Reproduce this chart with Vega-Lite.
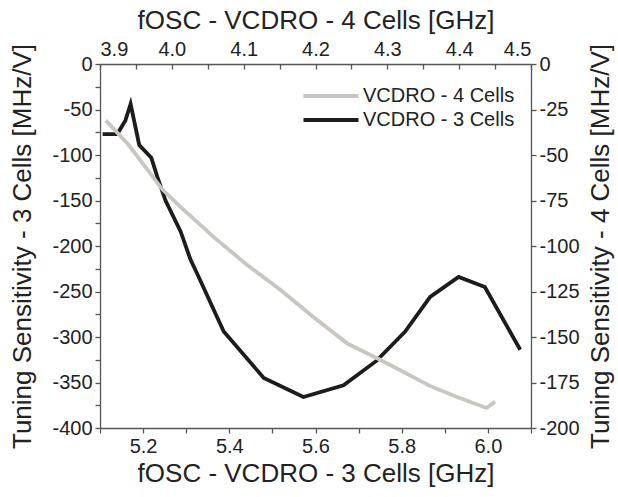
{
  "$schema": "https://vega.github.io/schema/vega-lite/v6.json",
  "width": 431,
  "height": 364,
  "autosize": {"type": "none"},
  "padding": {"left": 100, "top": 64, "right": 87, "bottom": 69},
  "background": "white",
  "datasets": {
    "cells3": [
      {"f": 5.106, "s": -77, "series": "VCDRO - 3 Cells"},
      {"f": 5.140, "s": -77, "series": "VCDRO - 3 Cells"},
      {"f": 5.159, "s": -62, "series": "VCDRO - 3 Cells"},
      {"f": 5.171, "s": -44, "series": "VCDRO - 3 Cells"},
      {"f": 5.191, "s": -89, "series": "VCDRO - 3 Cells"},
      {"f": 5.219, "s": -103, "series": "VCDRO - 3 Cells"},
      {"f": 5.233, "s": -124, "series": "VCDRO - 3 Cells"},
      {"f": 5.252, "s": -150, "series": "VCDRO - 3 Cells"},
      {"f": 5.287, "s": -184, "series": "VCDRO - 3 Cells"},
      {"f": 5.310, "s": -215, "series": "VCDRO - 3 Cells"},
      {"f": 5.325, "s": -230, "series": "VCDRO - 3 Cells"},
      {"f": 5.387, "s": -294, "series": "VCDRO - 3 Cells"},
      {"f": 5.480, "s": -345, "series": "VCDRO - 3 Cells"},
      {"f": 5.572, "s": -366, "series": "VCDRO - 3 Cells"},
      {"f": 5.665, "s": -353, "series": "VCDRO - 3 Cells"},
      {"f": 5.742, "s": -326, "series": "VCDRO - 3 Cells"},
      {"f": 5.808, "s": -294, "series": "VCDRO - 3 Cells"},
      {"f": 5.866, "s": -256, "series": "VCDRO - 3 Cells"},
      {"f": 5.932, "s": -234, "series": "VCDRO - 3 Cells"},
      {"f": 5.993, "s": -245, "series": "VCDRO - 3 Cells"},
      {"f": 6.075, "s": -314, "series": "VCDRO - 3 Cells"}
    ],
    "cells4": [
      {"f": 3.908, "s": -31, "series": "VCDRO - 4 Cells"},
      {"f": 3.940, "s": -44.5, "series": "VCDRO - 4 Cells"},
      {"f": 3.987, "s": -69, "series": "VCDRO - 4 Cells"},
      {"f": 4.012, "s": -78.5, "series": "VCDRO - 4 Cells"},
      {"f": 4.058, "s": -95, "series": "VCDRO - 4 Cells"},
      {"f": 4.105, "s": -110.5, "series": "VCDRO - 4 Cells"},
      {"f": 4.151, "s": -124, "series": "VCDRO - 4 Cells"},
      {"f": 4.197, "s": -139, "series": "VCDRO - 4 Cells"},
      {"f": 4.244, "s": -153.5, "series": "VCDRO - 4 Cells"},
      {"f": 4.290, "s": -162.5, "series": "VCDRO - 4 Cells"},
      {"f": 4.360, "s": -177, "series": "VCDRO - 4 Cells"},
      {"f": 4.397, "s": -183, "series": "VCDRO - 4 Cells"},
      {"f": 4.438, "s": -189, "series": "VCDRO - 4 Cells"},
      {"f": 4.450, "s": -185.5, "series": "VCDRO - 4 Cells"}
    ]
  },
  "config": {
    "view": {"stroke": null},
    "font": "Liberation Sans",
    "axis": {
      "grid": false,
      "domainColor": "#555555",
      "tickColor": "#555555",
      "domainWidth": 1.3,
      "tickWidth": 1.3,
      "tickSize": 5,
      "labelColor": "#222222",
      "titleColor": "#222222",
      "labelFont": "Liberation Sans",
      "titleFont": "Liberation Sans",
      "labelFontSize": 20,
      "titleFontSize": 26,
      "titleFontWeight": "normal",
      "labelPadding": 3
    },
    "legend": {
      "labelFont": "Liberation Sans",
      "labelFontSize": 20,
      "labelColor": "#222222",
      "symbolType": "M-9,0H1",
      "symbolSize": 121,
      "symbolStrokeWidth": 4,
      "symbolFillColor": "transparent",
      "labelOffset": 0,
      "rowPadding": 4,
      "padding": 0
    }
  },
  "layer": [
    {
      "data": {"name": "cells3"},
      "mark": {"type": "line", "strokeWidth": 3.8},
      "encoding": {
        "x": {
          "field": "f", "type": "quantitative",
          "scale": {"domain": [5.1, 6.1], "nice": false, "zero": false},
          "axis": {
            "orient": "bottom",
            "title": "fOSC - VCDRO - 3 Cells [GHz]",
            "values": [5.1, 5.2, 5.3, 5.4, 5.5, 5.6, 5.7, 5.8, 5.9, 6.0, 6.1],
            "labelExpr": "round(datum.value * 10) % 2 == 0 ? format(datum.value, '.1f') : ''",
            "titlePadding": 4
          }
        },
        "y": {
          "field": "s", "type": "quantitative",
          "scale": {"domain": [-400, 0], "nice": false, "zero": false},
          "axis": {
            "orient": "left",
            "title": "Tuning Sensitivity - 3 Cells [MHz/V]",
            "values": [0, -25, -50, -75, -100, -125, -150, -175, -200, -225, -250, -275, -300, -325, -350, -375, -400],
            "labelExpr": "datum.value % 50 == 0 ? toString(datum.value) : ''",
            "titlePadding": 16
          }
        },
        "color": {
          "field": "series", "type": "nominal",
          "scale": {"domain": ["VCDRO - 4 Cells", "VCDRO - 3 Cells"], "range": ["#c9c5c1", "#1c1c1c"]},
          "legend": {"orient": "none", "legendX": 243, "legendY": 22, "title": null}
        }
      }
    },
    {
      "data": {"name": "cells4"},
      "mark": {"type": "line", "strokeWidth": 3.8},
      "encoding": {
        "x": {
          "field": "f", "type": "quantitative",
          "scale": {"domain": [3.9, 4.5], "nice": false, "zero": false},
          "axis": {
            "orient": "top",
            "title": "fOSC - VCDRO - 4 Cells [GHz]",
            "values": [3.9, 3.95, 4.0, 4.05, 4.1, 4.15, 4.2, 4.25, 4.3, 4.35, 4.4, 4.45, 4.5],
            "labelExpr": "round(datum.value * 100) % 10 == 0 ? format(datum.value, '.1f') : ''",
            "tickSize": -5,
            "labelPadding": 10,
            "titlePadding": 6
          }
        },
        "y": {
          "field": "s", "type": "quantitative",
          "scale": {"domain": [-200, 0], "nice": false, "zero": false},
          "axis": {
            "orient": "right",
            "title": "Tuning Sensitivity - 4 Cells [MHz/V]",
            "titleAngle": 270,
            "values": [0, -25, -50, -75, -100, -125, -150, -175, -200],
            "labelExpr": "toString(datum.value)",
            "titlePadding": 34
          }
        },
        "color": {
          "field": "series", "type": "nominal"
        }
      }
    }
  ],
  "resolve": {"scale": {"x": "independent", "y": "independent"}}
}
